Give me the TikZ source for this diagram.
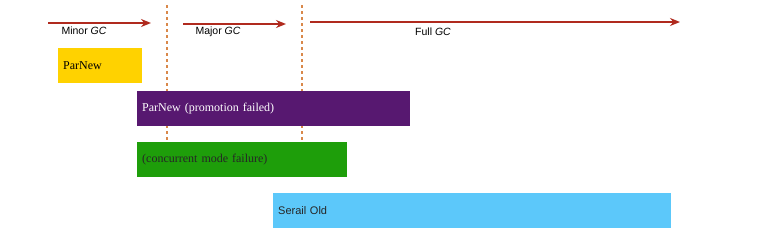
\documentclass[tikz,border=0pt]{standalone}
\usepackage{fontspec}
\setmainfont{Liberation Serif}
\setsansfont{Liberation Sans}
\usetikzlibrary{arrows.meta,positioning}
\definecolor{gcred}{HTML}{B02A1E}
\definecolor{gcdash}{HTML}{D9884A}
\definecolor{gcyellow}{HTML}{FFD200}
\definecolor{gcpurple}{HTML}{571870}
\definecolor{gcgreen}{HTML}{1E9E0A}
\definecolor{gcblue}{HTML}{5CC8FA}

\begin{document}
\begin{tikzpicture}[x=1pt,y=-1pt,
    phase/.style={draw=gcred, line width=2.3pt, -{Stealth[length=10pt,width=8pt]}},
    phaselabel/.style={font=\sffamily\fontsize{10.5}{12}\selectfont, inner sep=0pt},
    border/.style={gcdash, line width=1.4pt, dash pattern=on 3pt off 3pt},
    gcbox/.style={anchor=north west, minimum height=35pt, inner xsep=5pt, inner ysep=0pt,
      align=left, font=\fontsize{12}{14}\selectfont}]
  \useasboundingbox[fill=white] (0,0) rectangle (757,249);
  % time line
  \coordinate (minor-s) at (48,23);
  \coordinate (minor-e) at (151,23);
  \coordinate (major-s) at (183,24);
  \coordinate (major-e) at (286,24);
  \coordinate (full-s) at (310,22);
  \coordinate (full-e) at (680,22);
  \draw[phase] (minor-s) -- (minor-e);
  \draw[phase] (major-s) -- (major-e);
  \draw[phase] (full-s) -- (full-e);
  \node[phaselabel] (minor) at (84,31) {Minor \textit{GC}};
  \node[phaselabel] (major) at (218,32) {Major \textit{GC}};
  \node[phaselabel] (full) at (433,32) {Full \textit{GC}};
  % phase borders
  \coordinate (b1-top) at (167,5);
  \coordinate (b1-bot) at (167,140);
  \coordinate (b2-top) at (302,5);
  \coordinate (b2-bot) at (302,140);
  \draw[border] (b1-top) -- (b1-bot);
  \draw[border] (b2-top) -- (b2-bot);
  % collectors
  \node[gcbox, fill=gcyellow, text width=74pt] (parnew) at (58,48) {ParNew};
  \node[gcbox, fill=gcpurple, text=white, text width=263pt] (promo) at (137,91) {ParNew (promotion failed)};
  \node[gcbox, fill=gcgreen, text=black!85, text width=200pt] (cmf) at (137,142) {(concurrent mode failure)};
  \node[gcbox, fill=gcblue, text=black!85, text width=388pt, font=\sffamily\fontsize{11}{13}\selectfont] (serial) at (273,193) {Serail Old};
\end{tikzpicture}
\end{document}
